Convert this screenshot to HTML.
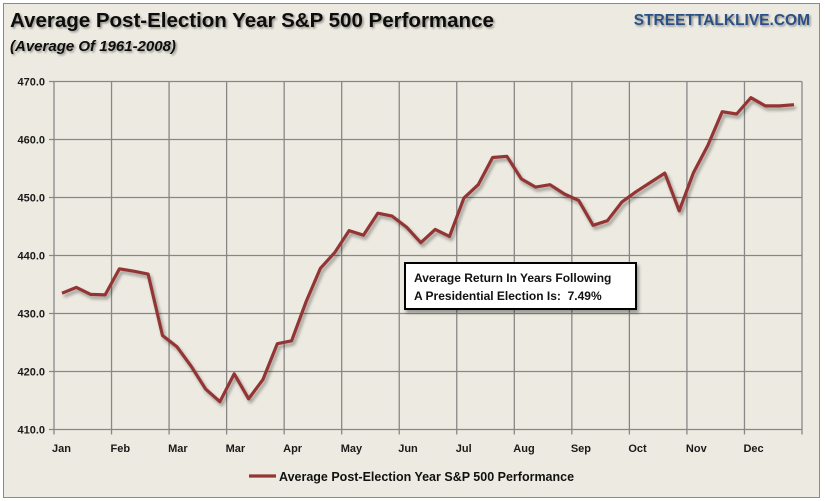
<!DOCTYPE html>
<html><head><meta charset="utf-8"><style>
html,body{margin:0;padding:0;background:#fff;}
svg{display:block;}
text{font-family:"Liberation Sans",sans-serif;}
</style></head><body>
<svg id="s" width="825" height="501" xmlns="http://www.w3.org/2000/svg">
<defs>
<filter id="sh" x="-10%" y="-10%" width="120%" height="130%"><feGaussianBlur in="SourceAlpha" stdDeviation="1.5"/><feOffset dx="2" dy="3"/><feComponentTransfer><feFuncA type="linear" slope="0.35"/></feComponentTransfer><feMerge><feMergeNode/><feMergeNode in="SourceGraphic"/></feMerge></filter>
<filter id="tsh"><feGaussianBlur in="SourceAlpha" stdDeviation="1"/><feOffset dx="1.5" dy="1.5"/><feComponentTransfer><feFuncA type="linear" slope="0.4"/></feComponentTransfer><feMerge><feMergeNode/><feMergeNode in="SourceGraphic"/></feMerge></filter>
</defs>
<rect x="3.5" y="3.5" width="816" height="494" fill="#edebe1" stroke="#8a8a8a" stroke-width="1"/>
<g id="grid" stroke="#878787" stroke-width="1.3" fill="none"></g>
<g font-size="11" font-weight="bold" fill="#1a1a1a" id="lbl"></g>
<text x="10" y="27" font-size="20.5" font-weight="bold" fill="#111" filter="url(#tsh)">Average Post-Election Year S&amp;P 500 Performance</text>
<text x="10" y="51" font-size="15" font-weight="bold" font-style="italic" fill="#111" filter="url(#tsh)">(Average Of 1961-2008)</text>
<text x="810" y="25" font-size="15.5" font-weight="bold" fill="#2a4f85" text-anchor="end" filter="url(#tsh)">STREETTALKLIVE.COM</text>
<polyline id="ln" fill="none" stroke="#943634" stroke-width="3.2" stroke-linejoin="round" filter="url(#sh)"/>
<rect x="405" y="263" width="231" height="46" fill="#fff" stroke="#000" stroke-width="2" filter="url(#sh)"/>
<text x="414" y="282" font-size="12" font-weight="bold" fill="#111">Average Return In Years Following</text>
<text x="414" y="300" font-size="12" font-weight="bold" fill="#111">A Presidential Election Is: &#160;7.49%</text>
<line x1="249" y1="476" x2="276" y2="476" stroke="#943634" stroke-width="3.2"/>
<text x="279" y="481" font-size="12.5" font-weight="bold" fill="#111">Average Post-Election Year S&amp;P 500 Performance</text>
</svg>
<script>
var ns="http://www.w3.org/2000/svg";
function el(p,t,a){var e=document.createElementNS(ns,t);for(var k in a)e.setAttribute(k,a[k]);p.appendChild(e);return e;}
var g=document.getElementById('grid'),l=document.getElementById('lbl');
var L=54,R=802,T=81.5,B=429.5;
for(var i=0;i<=6;i++){var y=T+i*58;el(g,'line',{x1:L-5,x2:R,y1:y,y2:y});var t=el(l,'text',{x:L-9,y:y+4,'text-anchor':'end'});t.textContent=(470-i*10).toFixed(1);}
var m=['Jan','Feb','Mar','Mar','Apr','May','Jun','Jul','Aug','Sep','Oct','Nov','Dec'];
var w=(R-L)/13;
for(var i=0;i<=13;i++){var x=L+i*w;el(g,'line',{x1:x,x2:x,y1:T,y2:B+5});if(i<13){var t=el(l,'text',{x:x-1+(i==0?-1:0),y:452});t.textContent=m[i];}}
var v=[433.5,434.5,433.3,433.2,437.7,437.3,436.8,426.2,424.3,420.9,417.0,414.8,419.6,415.3,418.6,424.8,425.3,432.0,437.8,440.5,444.3,443.5,447.3,446.8,444.9,442.2,444.5,443.3,449.9,452.2,456.9,457.1,453.2,451.8,452.2,450.6,449.5,445.2,446.0,449.2,451.0,452.6,454.2,447.7,454.3,459.0,464.8,464.4,467.2,465.8,465.8,466.0];
var pts=[];for(var i=0;i<v.length;i++){var x=62+i*(794-62)/(v.length-1);pts.push(x.toFixed(1)+','+(B-(v[i]-410)*5.8).toFixed(1));}
document.getElementById('ln').setAttribute('points',pts.join(' '));
</script>
</body></html>
